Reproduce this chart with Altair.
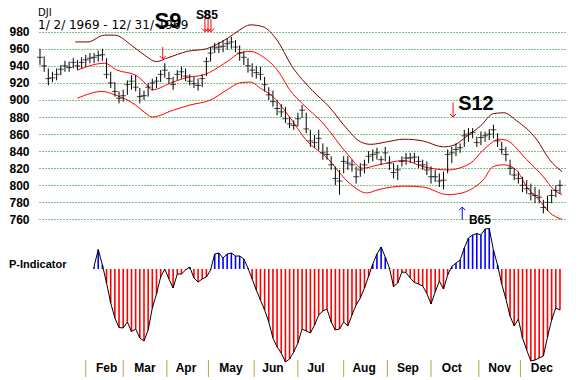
import altair as alt
import pandas as pd

# ---------------- data ----------------
# daily price bars, sampled every 2nd trading day (index 0 = 2 Jan 1969)
bar_day = list(range(0, 251, 2))
bar_high = [960, 951, 937, 933, 937, 941, 946, 945, 949, 947, 950, 953, 955, 955, 958, 960,
            949, 933, 921, 910, 912, 923, 929, 929, 914, 911, 920, 925, 927, 935, 943, 933,
            927, 935, 939, 937, 930, 927, 925, 930, 950, 962, 967, 968, 970, 972, 974, 970,
            964, 957, 949, 943, 940, 939, 927, 915, 911, 900, 895, 892, 880, 876, 885, 894,
            885, 865, 859, 865, 849, 845, 834, 822, 818, 834, 834, 830, 822, 826, 830, 840,
            842, 844, 834, 845, 834, 826, 824, 834, 838, 838, 838, 834, 830, 828, 822, 818,
            814, 816, 842, 845, 849, 849, 865, 867, 867, 857, 863, 863, 866, 871, 861, 851,
            845, 830, 820, 816, 810, 806, 802, 798, 795, 783, 788, 795, 800, 806]
bar_low = [941, 933, 917, 921, 923, 929, 933, 933, 937, 935, 937, 939, 943, 943, 945, 946,
           925, 914, 904, 896, 898, 906, 912, 910, 896, 900, 904, 911, 914, 921, 926, 919,
           912, 923, 925, 922, 917, 914, 911, 915, 928, 945, 955, 955, 956, 959, 960, 956,
           946, 941, 932, 927, 925, 923, 910, 900, 892, 882, 880, 873, 867, 865, 869, 879,
           861, 845, 844, 841, 830, 830, 818, 800, 789, 814, 818, 816, 802, 810, 814, 826,
           828, 830, 824, 828, 818, 808, 806, 822, 824, 826, 826, 820, 818, 812, 802, 804,
           798, 795, 814, 826, 834, 838, 845, 851, 855, 845, 847, 851, 853, 855, 845, 836,
           828, 812, 806, 802, 792, 790, 782, 779, 779, 767, 770, 779, 786, 790]
bar_close = [950, 940, 925, 926, 930, 936, 940, 938, 944, 940, 944, 947, 949, 950, 952, 953,
             930, 920, 910, 902, 905, 918, 922, 915, 904, 905, 915, 920, 922, 930, 935, 925,
             918, 930, 933, 928, 922, 919, 917, 925, 945, 955, 961, 962, 963, 966, 968, 962,
             955, 950, 940, 935, 932, 930, 918, 906, 898, 890, 886, 878, 872, 870, 878, 888,
             866, 852, 850, 855, 838, 836, 824, 808, 805, 828, 826, 824, 810, 818, 824, 834,
             836, 838, 830, 838, 826, 815, 818, 828, 832, 832, 833, 828, 824, 818, 810, 810,
             805, 806, 836, 838, 842, 844, 858, 860, 862, 850, 856, 858, 860, 865, 852, 842,
             836, 820, 812, 808, 800, 796, 790, 788, 786, 774, 780, 788, 794, 800]

# bands
upper_day = [17, 23, 31, 36, 44, 50, 56, 61, 71, 80, 90, 96, 101, 107, 114, 121, 131, 139,
             148, 154, 159, 167, 175, 184, 194, 199, 205, 212, 218, 223, 229, 239, 245, 251]
upper_val = [968, 968, 976, 976, 964, 953, 945, 949, 957, 960, 972, 982, 988, 986, 970, 940,
             911, 892, 865, 851, 848, 851, 854, 852, 845, 847, 857, 870, 884, 885, 876, 853,
             830, 816]
middle_day = [18, 31, 37, 46, 50, 54, 64, 72, 78, 90, 96, 101, 107, 115, 120, 126, 136, 148,
              155, 163, 175, 184, 196, 207, 213, 221, 224, 234, 242, 247, 251]
middle_val = [935, 943, 935, 929, 921, 912, 921, 927, 929, 945, 955, 957, 951, 932, 912, 896,
              873, 836, 820, 824, 829, 822, 818, 826, 841, 854, 853, 830, 810, 795, 789]
lower_day = [18, 30, 36, 46, 50, 54, 64, 72, 82, 90, 96, 101, 107, 111, 120, 128, 138, 149,
             157, 163, 175, 184, 196, 203, 207, 213, 218, 223, 229, 234, 240, 245, 251]
lower_val = [902, 910, 906, 894, 886, 880, 888, 894, 900, 912, 920, 921, 912, 906, 880, 853,
             832, 802, 791, 795, 799, 798, 789, 791, 795, 806, 822, 824, 818, 798, 783, 768, 760]

# P-Indicator, every 2nd trading day from index 26
p_day = list(range(26, 251, 2))
p_val = [5, 39, 8, -28, -68, -98, -117, -118, -106, -125,
         -120, -138, -144, -122, -78, -50, -16, 0, -20, -38,
         -10, -10, -2, 4, -18, -26, -20, -16, -2, 30,
         32, 22, 30, 32, 26, 26, 20, 2, -20, -42,
         -62, -82, -106, -138, -156, -168, -186, -180, -166, -148,
         -120, -124, -128, -112, -92, -84, -80, -106, -122, -120,
         -106, -114, -92, -72, -58, -38, -14, 10, 30, 44,
         24, 2, -35, -28, -6, -7, -18, -27, -30, -34,
         -49, -70, -46, -24, -40, -12, 5, 12, 18, 42,
         62, 68, 71, 68, 80, 81, 38, 8, -30, -60,
         -94, -114, -100, -138, -162, -184, -182, -178, -174, -136,
         -102, -78, -82]

# months
month_names = ["Feb", "Mar", "Apr", "May", "Jun", "Jul", "Aug", "Sep", "Oct", "Nov", "Dec"]
month_label_day = [32, 50.5, 70.2, 91.8, 112, 132.7, 155.8, 176.9, 198, 221, 241.3]
month_start_day = [22, 40, 61, 81, 103, 124, 146, 167, 188, 211, 231]

price_ticks = [760, 780, 800, 820, 840, 860, 880, 900, 920, 940, 960, 980]

# signals
sig_text = ["S9", "S12", "B65"]
sig_day = [61.5, 209.6, 211.5]
sig_price = [993, 895, 759]
sig_size = [22, 20, 12]

arrow_day = [59, 79.3, 80.8, 82.2, 198.6, 203]
arrow_tail = [962, 995, 995, 995, 897, 759.6]
arrow_tip = [948, 980, 980, 980, 880, 774.5]
arrow_color = ["#ff0000", "#ff0000", "#ff0000", "#ff0000", "#ff0000", "#0000ff"]
DOWN = "M-1,-1L0,0L1,-1"
UP = "M-1,1L0,0L1,1"
arrow_shape = [DOWN, DOWN, DOWN, DOWN, DOWN, UP]

# ---------------- tables ----------------
bars = pd.DataFrame({"day": bar_day, "high": bar_high, "low": bar_low, "close": bar_close})
bands = pd.concat([
    pd.DataFrame({"day": upper_day, "v": upper_val, "band": "upper"}),
    pd.DataFrame({"day": middle_day, "v": middle_val, "band": "middle"}),
    pd.DataFrame({"day": lower_day, "v": lower_val, "band": "lower"}),
])
pdf = pd.DataFrame({"day": p_day, "p": p_val})
pdf["col"] = ["#0000ff" if v > 0 else "#ff0000" for v in p_val]
months = pd.DataFrame({"day": month_label_day, "m": month_names})
mstarts = pd.DataFrame({"day": month_start_day})
sigs = pd.DataFrame({"day": sig_day, "price": sig_price, "t": sig_text, "fs": sig_size})
arrows = pd.DataFrame({"day": arrow_day, "tail": arrow_tail, "tip": arrow_tip,
                       "col": arrow_color, "shape": arrow_shape})
garble = pd.DataFrame({"day": [78.5, 82.0], "price": [999, 999], "t": ["S8", "S5"]})

# ---------------- scales ----------------
FONT = "Liberation Sans"
xs = alt.Scale(domain=[-0.48, 252.9], nice=False, zero=False)
ps = alt.Scale(domain=[760, 980], range=[211.4, 23.7], nice=False, zero=False)
qs = alt.Scale(domain=[-200, 100], range=[361, 211], nice=False, zero=False)
paxis = alt.Axis(values=price_ticks, grid=True, gridColor="#008000", gridDash=[1, 2],
                 gridOpacity=1, domain=False, ticks=False, labelFont=FONT,
                 labelFontWeight="bold", labelFontSize=12, labelColor="black",
                 labelPadding=10, title=None)

X = lambda f="day": alt.X(f"{f}:Q", scale=xs, axis=None)
PY = lambda f: alt.Y(f"{f}:Q", scale=ps, axis=paxis)

rng = alt.Chart(bars).mark_rule(color="black", strokeWidth=1).encode(
    x=X(), y=PY("low"), y2="high")
cls = alt.Chart(bars).mark_tick(color="black", orient="horizontal", size=6, thickness=1).encode(
    x=X(), y=PY("close"))
band_lines = alt.Chart(bands).mark_line(strokeWidth=1, interpolate="monotone").encode(
    x=X(), y=PY("v"),
    color=alt.Color("band:N", scale=alt.Scale(domain=["upper", "middle", "lower"],
                                              range=["#800000", "#ff0000", "#ff0000"]),
                    legend=None))
sig_txt = alt.Chart(sigs).mark_text(font=FONT, fontWeight="bold", color="black",
                                    baseline="middle", align="center").encode(
    x=X(), y=PY("price"), text="t:N", size=alt.Size("fs:Q", scale=None))
garb = alt.Chart(garble).mark_text(font=FONT, fontWeight="bold", fontSize=12, color="black",
                                   baseline="middle").encode(x=X(), y=PY("price"), text="t:N")
shaft = alt.Chart(arrows).mark_rule(strokeWidth=1).encode(
    x=X(), y=PY("tail"), y2="tip", color=alt.Color("col:N", scale=None))
heads = alt.Chart(arrows).mark_point(filled=False, size=40, strokeWidth=1, opacity=1).encode(
    x=X(), y=PY("tip"), color=alt.Color("col:N", scale=None),
    shape=alt.Shape("shape:N", scale=None))

price = alt.layer(band_lines, rng, cls, shaft, heads, sig_txt, garb)

pbars = alt.Chart(pdf).mark_rule(strokeWidth=1.6).encode(
    x=X(), y=alt.Y("p:Q", scale=qs, axis=None), y2=alt.datum(0),
    color=alt.Color("col:N", scale=None))
pline = alt.Chart(pdf).mark_line(color="black", strokeWidth=1).encode(
    x=X(), y=alt.Y("p:Q", scale=qs, axis=None))
mtext = alt.Chart(months).mark_text(font=FONT, fontWeight="bold", fontSize=12, color="black",
                                    baseline="middle").encode(x=X(), y=alt.value(360), text="m:N")
mtick = alt.Chart(mstarts).mark_rule(color="#b4a848", strokeWidth=1).encode(
    x=X(), y=alt.value(352), y2=alt.value(369))
lab = pd.DataFrame({"t": ["DJI", "1/ 2/ 1969 - 12/ 31/ 1969"]})
t1 = alt.Chart(lab.iloc[[0]]).mark_text(font="DejaVu Sans", fontSize=10, align="left",
                                        baseline="alphabetic", color="black").encode(
    x=alt.value(-1), y=alt.value(7.8), text="t:N")
t2 = alt.Chart(lab.iloc[[1]]).mark_text(font="DejaVu Sans", fontSize=12, align="left",
                                        baseline="alphabetic", color="black").encode(
    x=alt.value(-1), y=alt.value(20.5), text="t:N")
pl = alt.Chart(pd.DataFrame({"t": ["P-Indicator"]})).mark_text(
    font=FONT, fontWeight="bold", fontSize=11, align="left", baseline="middle",
    color="black").encode(x=alt.value(-30), y=alt.value(257), text="t:N")

ind = alt.layer(pbars, pline, mtick, mtext, t1, t2, pl)

chart = alt.layer(price, ind).resolve_scale(y="independent").properties(
    width=527, height=370,
    autosize=alt.AutoSizeParams(type="none"),
    padding={"left": 31, "top": 0, "right": 0, "bottom": 0},
    background="white",
).configure_view(stroke=None)

chart.save("out.html", embed_options={"renderer": "svg", "actions": False})
